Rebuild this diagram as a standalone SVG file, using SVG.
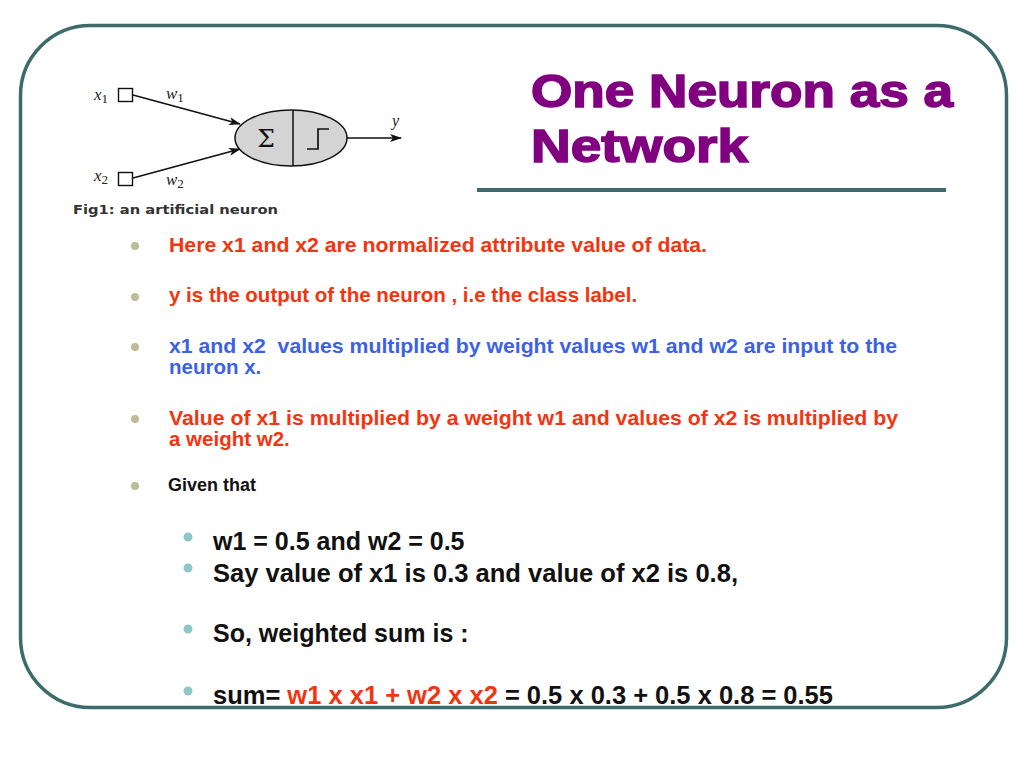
<svg xmlns="http://www.w3.org/2000/svg" width="1024" height="768" viewBox="0 0 1024 768">
<defs>
<style>
.t{font-family:"Liberation Sans",Arial,sans-serif;font-weight:bold}
.red{fill:#f2350f}
.blue{fill:#3b62e6}
.blk{fill:#111}
.ser{font-family:"Liberation Serif","Times New Roman",serif;font-style:italic;fill:#222}
.b1{fill:#bcbc98}
.b2{fill:#8fc7c7}
</style>
<marker id="ah" markerWidth="12" markerHeight="8" refX="11" refY="4" orient="auto" markerUnits="userSpaceOnUse">
<path d="M0,0 L12,4 L0,8 L3,4 Z" fill="#111"/>
</marker>
</defs>
<rect width="1024" height="768" fill="#fff"/>
<rect id="frame" x="20.5" y="25.5" width="986" height="682" rx="70" ry="70" fill="none" stroke="#3d6b6b" stroke-width="3.5"/>

<g id="title">
<text class="t" x="531" y="107" font-size="47" fill="#800080" stroke="#800080" stroke-width="1.6" textLength="422" lengthAdjust="spacingAndGlyphs">One Neuron as a</text>
<text class="t" x="531" y="162" font-size="47" fill="#800080" stroke="#800080" stroke-width="1.6" textLength="217" lengthAdjust="spacingAndGlyphs">Network</text>
<line x1="477" y1="190" x2="946" y2="190" stroke="#3d6b6b" stroke-width="4"/>
</g>

<g id="neuron-figure">
<g id="connectors" stroke="#111" stroke-width="1.5" fill="none">
<line x1="133" y1="95" x2="240" y2="124" marker-end="url(#ah)"/>
<line x1="133" y1="178" x2="240" y2="149" marker-end="url(#ah)"/>
<line x1="346" y1="138" x2="401" y2="138" marker-end="url(#ah)"/>
</g>
<g id="input-x1">
<rect x="118.5" y="88.5" width="14" height="13" fill="#fff" stroke="#111" stroke-width="1.4"/>
<text class="ser" x="94" y="100" font-size="17">x<tspan font-size="13" font-style="normal" dy="3">1</tspan></text>
<text class="ser" x="166" y="99" font-size="17">w<tspan font-size="13" font-style="normal" dy="3">1</tspan></text>
</g>
<g id="input-x2">
<rect x="118.5" y="172.5" width="14" height="13" fill="#fff" stroke="#111" stroke-width="1.4"/>
<text class="ser" x="94" y="181" font-size="17">x<tspan font-size="13" font-style="normal" dy="3">2</tspan></text>
<text class="ser" x="166" y="185" font-size="17">w<tspan font-size="13" font-style="normal" dy="3">2</tspan></text>
</g>
<g id="neuron">
<ellipse cx="291" cy="138" rx="56" ry="28" fill="#d4d4d4" stroke="#111" stroke-width="1.5"/>
<line x1="293" y1="110" x2="293" y2="166" stroke="#111" stroke-width="1.5"/>
<text x="266" y="147" font-family="'DejaVu Serif','Liberation Serif',serif" font-size="25" text-anchor="middle" fill="#111">Σ</text>
<path d="M307,149 H318 V129 H329" fill="none" stroke="#111" stroke-width="1.7"/>
</g>
<g id="output-y">
<text class="ser" x="392" y="126" font-size="16">y</text>
</g>
<text x="73" y="214" font-family="'DejaVu Sans',Verdana,sans-serif" font-weight="bold" font-size="12.5" fill="#333" textLength="205" lengthAdjust="spacingAndGlyphs">Fig1: an artificial neuron</text>
</g>

<g id="bullets-top" class="t">
<circle class="b1" cx="135" cy="246" r="4"/>
<text class="red" x="169" y="252" font-size="20.5" textLength="538" lengthAdjust="spacingAndGlyphs">Here x1 and x2 are normalized attribute value of data.</text>
<circle class="b1" cx="135" cy="297" r="4"/>
<text class="red" x="169" y="302" font-size="20.5">y is the output of the neuron , i.e the class label.</text>
<circle class="b1" cx="135" cy="347" r="4"/>
<text class="blue" x="169" y="353" font-size="20.5" textLength="728" lengthAdjust="spacingAndGlyphs" xml:space="preserve">x1 and x2  values multiplied by weight values w1 and w2 are input to the</text>
<text class="blue" x="169" y="374" font-size="20.5">neuron x.</text>
<circle class="b1" cx="135" cy="419" r="4"/>
<text class="red" x="169" y="425" font-size="20.5" textLength="729" lengthAdjust="spacingAndGlyphs">Value of x1 is multiplied by a weight w1 and values of x2 is multiplied by</text>
<text class="red" x="169" y="446" font-size="20.5">a weight w2.</text>
<circle class="b1" cx="135" cy="486" r="4"/>
<text class="blk" x="168" y="491" font-size="18">Given that</text>
</g>

<g id="bullets-bottom" class="t">
<circle class="b2" cx="188" cy="537" r="4.5"/>
<text class="blk" x="213" y="550" font-size="25">w1 = 0.5 and w2 = 0.5</text>
<circle class="b2" cx="188" cy="568" r="4.5"/>
<text class="blk" x="213" y="582" font-size="25" textLength="525" lengthAdjust="spacingAndGlyphs">Say value of x1 is 0.3 and value of x2 is 0.8,</text>
<circle class="b2" cx="188" cy="629" r="4.5"/>
<text class="blk" x="213" y="642" font-size="25">So, weighted sum is :</text>
<circle class="b2" cx="188" cy="691" r="4.5"/>
<text class="blk" x="213" y="704" font-size="25" textLength="620" lengthAdjust="spacingAndGlyphs">sum= <tspan class="red">w1 x x1 + w2 x x2</tspan> = 0.5 x 0.3 + 0.5 x 0.8 = 0.55</text>
</g>
</svg>
